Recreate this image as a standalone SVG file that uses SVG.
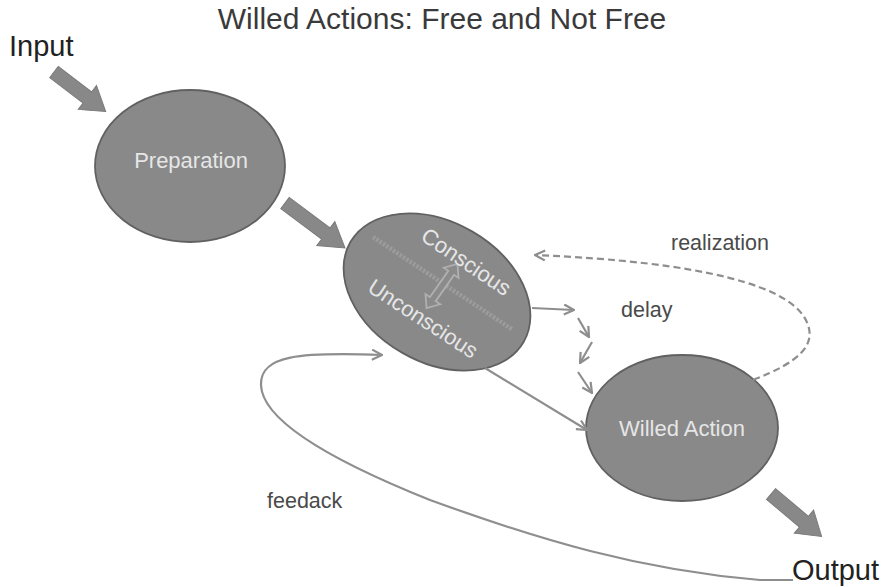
<svg xmlns="http://www.w3.org/2000/svg" width="890" height="587" viewBox="0 0 890 587">
<style>
.node{fill:#898989;stroke:#616161;stroke-width:1.8}
.ntext{font-family:"Liberation Sans",Arial,sans-serif;font-size:22px;fill:#e6e6e6;text-anchor:middle}
.label{font-family:"Liberation Sans",Arial,sans-serif;font-size:21.5px;fill:#4a4a4a}
.big{font-family:"Liberation Sans",Arial,sans-serif;font-size:29px;fill:#222}
.title{font-family:"Liberation Sans",Arial,sans-serif;font-size:30px;fill:#3a3a3a;text-anchor:middle}
.block{fill:#888;stroke:#7a7a7a;stroke-width:1}
.conn{fill:none;stroke:#8e8e8e;stroke-width:2.2}
.dash{stroke-dasharray:7 4}
</style>
<defs>
<marker id="chev" viewBox="0 0 12 12" refX="11" refY="6" markerWidth="12" markerHeight="12" markerUnits="userSpaceOnUse" orient="auto">
<path d="M1,1 L11,6 L1,11" fill="none" stroke="#8e8e8e" stroke-width="2.2"/>
</marker>
</defs>
<rect width="890" height="587" fill="#fff"/>
<text class="title" x="442" y="29">Willed Actions: Free and Not Free</text>

<g id="input">
<text class="big" x="9" y="56">Input</text>
<polygon class="block" transform="translate(54,72) rotate(37.4)" points="0,-7 42,-7 42,-15 65,0 42,15 42,7 0,7"/>
</g>

<g id="preparation">
<ellipse class="node" cx="190" cy="166" rx="95" ry="76"/>
<text class="ntext" x="191" y="168">Preparation</text>
</g>

<g id="conscious">
<ellipse class="node" cx="437" cy="292" rx="100" ry="70" transform="rotate(30 437 292)"/>
<line x1="373" y1="237" x2="513" y2="330" stroke="#9c9c9c" stroke-width="4.5" stroke-dasharray="2.5 1.5"/>
<polygon transform="translate(442,286) rotate(124.9)" points="-27,0 -16,-9 -16,-3.5 16,-3.5 16,-9 27,0 16,9 16,3.5 -16,3.5 -16,9" fill="#8b8b8b" stroke="#b0b0b0" stroke-width="1.8"/>
<text class="ntext" transform="translate(462,268) rotate(34)" x="0" y="0">Conscious</text>
<text class="ntext" transform="translate(419,325) rotate(33)" x="0" y="0">Unconscious</text>
</g>

<g id="willed-action">
<ellipse class="node" cx="682" cy="428" rx="96" ry="73"/>
<text class="ntext" x="682" y="436">Willed Action</text>
</g>

<g id="output">
<polygon class="block" transform="translate(771,494) rotate(40)" points="0,-7 43,-7 43,-15 66,0 43,15 43,7 0,7"/>
<text class="big" x="792" y="580">Output</text>
</g>

<g id="connectors">
<polygon class="block" transform="translate(285,203) rotate(36.9)" points="0,-7 51,-7 51,-15 75,0 51,15 51,7 0,7"/>
<path class="conn" d="M532,308 L574,310" marker-end="url(#chev)"/>
<path class="conn" d="M578,318 L589,337" marker-end="url(#chev)"/>
<path class="conn" d="M592,342 L580,363" marker-end="url(#chev)"/>
<path class="conn" d="M578,372 L592,393" marker-end="url(#chev)"/>
<path class="conn" d="M485,368 L587,430" marker-end="url(#chev)"/>
<path class="conn dash" d="M753,380 C800,362 815,345 808,325 C795,285 700,262 535,255" marker-end="url(#chev)"/>
<path class="conn" d="M793,580 L760,580 C640,570 540,540 430,500 C330,460 262,420 261,385 C260,355 300,352 382,355" marker-end="url(#chev)"/>
<text class="label" x="671" y="250">realization</text>
<text class="label" x="621" y="317">delay</text>
<text class="label" x="267" y="508">feedack</text>
</g>
</svg>
